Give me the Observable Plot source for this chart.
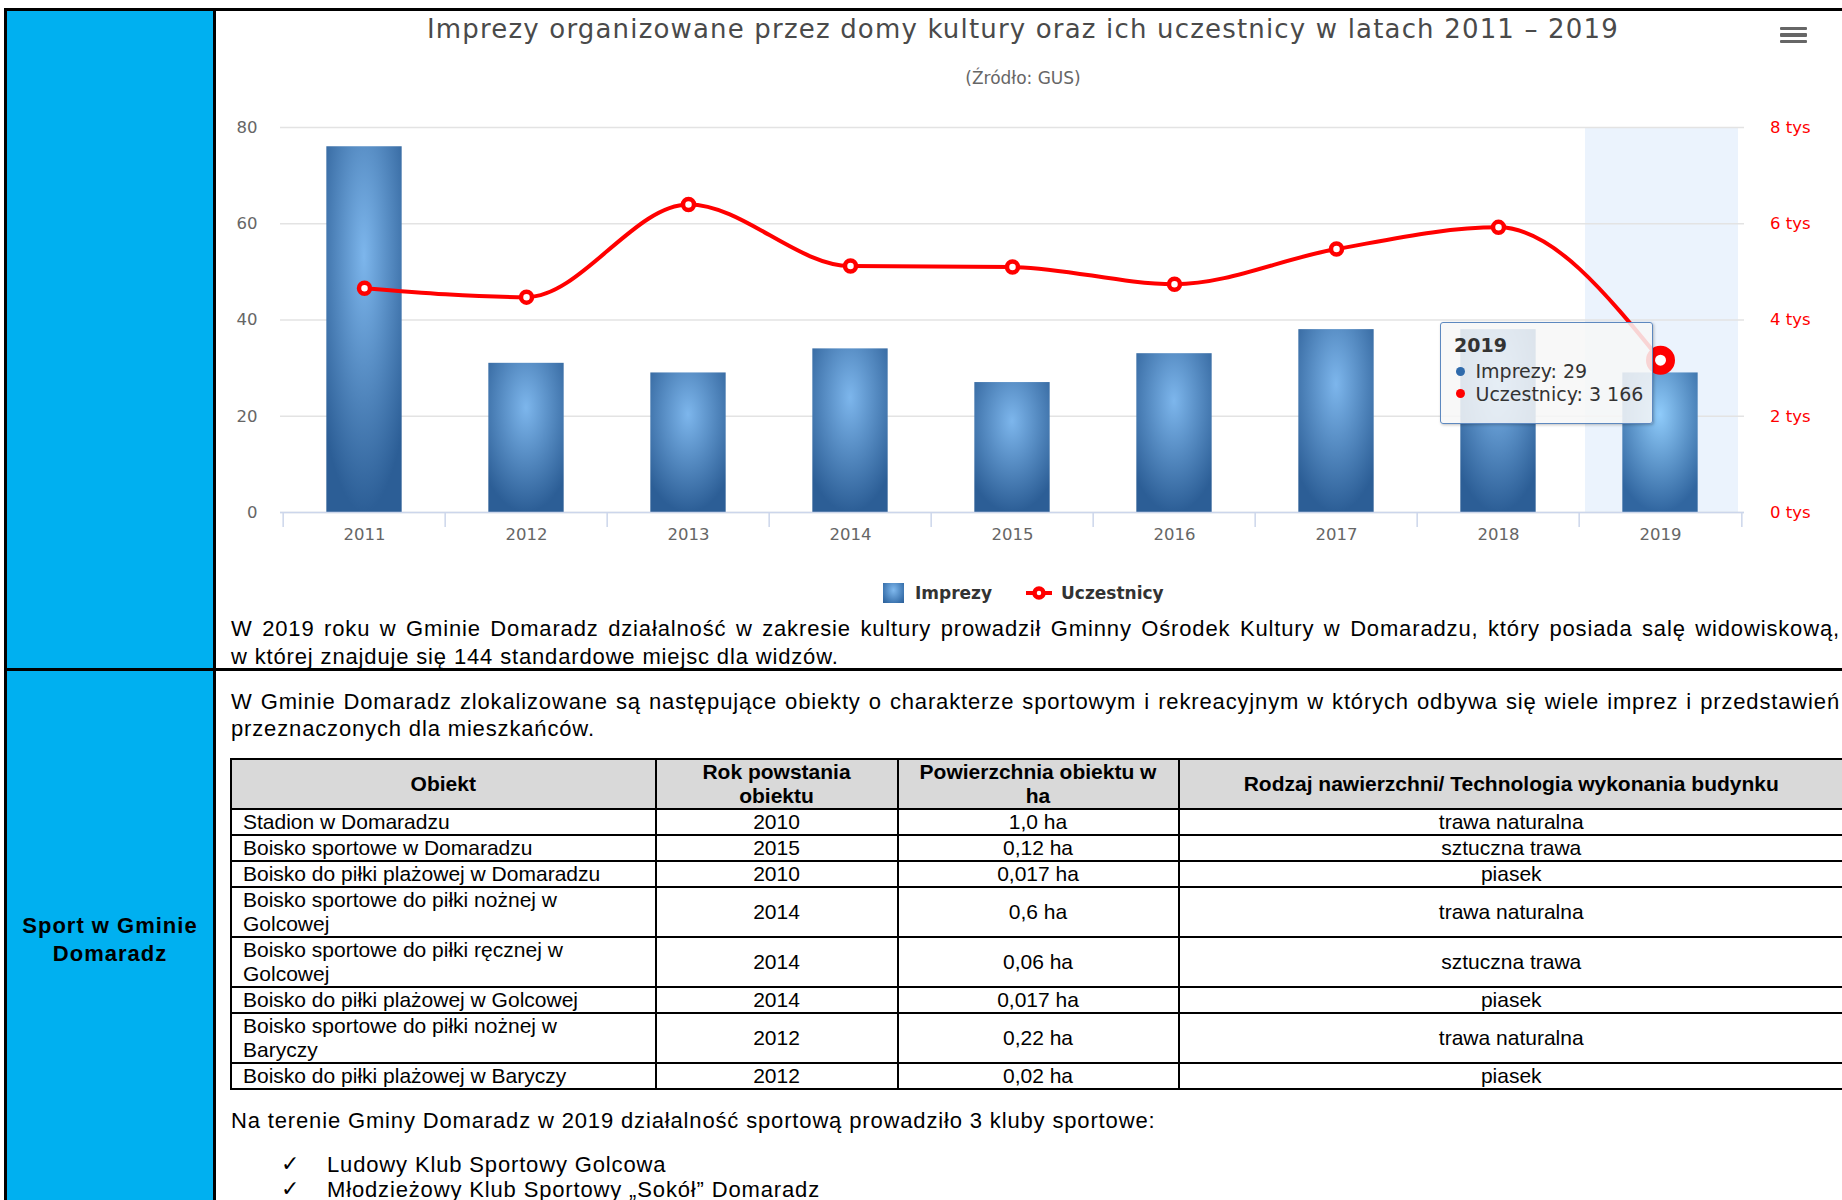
<!DOCTYPE html>
<html lang="pl">
<head>
<meta charset="utf-8">
<script src="https://cdn.jsdelivr.net/npm/d3@7"></script>
<script src="https://cdn.jsdelivr.net/npm/@observablehq/plot@0.6"></script>
<style>
html,body{margin:0;padding:0;}
body{width:1842px;height:1200px;overflow:hidden;position:relative;background:#fff;font-family:"Liberation Sans",Arial,"DejaVu Sans",sans-serif;color:#000;}
.a{position:absolute;}
.bl{position:absolute;background:#000;z-index:5;}
#blue{left:7px;top:11px;width:206px;height:1189px;background:#00b0f0;}
.doc{position:absolute;font-size:22px;letter-spacing:0.85px;line-height:27.5px;white-space:nowrap;}
.just{display:block;text-align:justify;text-align-last:justify;width:1609px;white-space:normal;}
#side{left:7px;width:206px;top:912px;text-align:center;font-weight:bold;font-size:22px;letter-spacing:1px;line-height:28px;}
#chart{position:absolute;left:216px;top:0;width:1626px;height:620px;}
.hc{font-family:"DejaVu Sans",sans-serif;}
#title{top:14px;font-size:26px;line-height:30px;color:#4a4a4a;white-space:nowrap;transform:translateX(-50%);}
#subtitle{top:68px;font-size:17px;line-height:20px;color:#666;white-space:nowrap;transform:translateX(-50%);}
.hb{position:absolute;left:1780px;width:27px;height:3.7px;background:#666;border-radius:1px;}
.lgtxt{font-weight:bold;font-size:17px;color:#333;line-height:20px;top:583px;white-space:nowrap;}
#tip{box-sizing:border-box;width:213px;height:102px;background:rgba(247,247,247,0.86);border:1.5px solid #5d88bf;border-radius:3px;box-shadow:1px 1px 3px rgba(0,0,0,0.25);color:#333;font-size:19px;z-index:3;}
#tip .ln{position:absolute;line-height:22px;white-space:nowrap;}
#tip .bul{position:absolute;width:9px;height:9px;border-radius:50%;}
.cell{position:absolute;box-sizing:border-box;border:2px solid #000;display:flex;align-items:center;font-size:21px;line-height:24px;}
.cell.h{background:#d9d9d9;font-weight:bold;justify-content:center;text-align:center;}
.cell.c{justify-content:center;text-align:center;}
.cell.l{padding-left:11px;}
</style>
</head>
<body>
<div id="blue" class="a"></div>
<div id="chart"></div>
<div id="overlay"></div>
<div id="doc"></div>
<script>
// ---------------- data ----------------
const years = ["2011","2012","2013","2014","2015","2016","2017","2018","2019"];
const imprezy = [76, 31, 29, 34, 27, 33, 38, 38, 29];
const uczestnicy = [4660, 4475, 6400, 5120, 5100, 4745, 5475, 5925, 3166];
const leftTicks = [0, 20, 40, 60, 80];
const rightTickLabels = ["0 tys", "2 tys", "4 tys", "6 tys", "8 tys"];
const hoverYear = "2019";
const seriesNames = ["Imprezy", "Uczestnicy"];
const chartTitle = "Imprezy organizowane przez domy kultury oraz ich uczestnicy w latach 2011 \u2013 2019";
const chartSubtitle = "(\u0179r\u00f3d\u0142o: GUS)";

const para1 = ["W 2019 roku w Gminie Domaradz dzia\u0142alno\u015b\u0107 w zakresie kultury prowadzi\u0142 Gminny O\u015brodek Kultury w Domaradzu, kt\u00f3ry posiada sal\u0119 widowiskow\u0105,",
               "w kt\u00f3rej znajduje si\u0119 144 standardowe miejsc dla widz\u00f3w."];
const para2 = ["W Gminie Domaradz zlokalizowane s\u0105 nast\u0119puj\u0105ce obiekty o charakterze sportowym i rekreacyjnym w kt\u00f3rych odbywa si\u0119 wiele imprez i przedstawie\u0144",
               "przeznaczonych dla mieszka\u0144c\u00f3w."];
const sideLabel = ["Sport w Gminie", "Domaradz"];
const tableHeader = ["Obiekt", "Rok powstania\nobiektu", "Powierzchnia obiektu w\nha", "Rodzaj nawierzchni/ Technologia wykonania budynku"];
const objNames = ["Stadion w Domaradzu", "Boisko sportowe w Domaradzu", "Boisko do pi\u0142ki pla\u017cowej w Domaradzu",
  "Boisko sportowe do pi\u0142ki no\u017cnej w\nGolcowej", "Boisko sportowe do pi\u0142ki r\u0119cznej w\nGolcowej",
  "Boisko do pi\u0142ki pla\u017cowej w Golcowej", "Boisko sportowe do pi\u0142ki no\u017cnej w\nBaryczy", "Boisko do pi\u0142ki pla\u017cowej w Baryczy"];
const objYears = ["2010", "2015", "2010", "2014", "2014", "2014", "2012", "2012"];
const objArea = ["1,0 ha", "0,12 ha", "0,017 ha", "0,6 ha", "0,06 ha", "0,017 ha", "0,22 ha", "0,02 ha"];
const objSurface = ["trawa naturalna", "sztuczna trawa", "piasek", "trawa naturalna", "sztuczna trawa", "piasek", "trawa naturalna", "piasek"];
const para3 = "Na terenie Gminy Domaradz w 2019 dzia\u0142alno\u015b\u0107 sportow\u0105 prowadzi\u0142o 3 kluby sportowe:";
const clubs = ["Ludowy Klub Sportowy Golcowa", "M\u0142odzie\u017cowy Klub Sportowy \u201eSok\u00f3\u0142\u201d Domaradz"];

// ---------------- chart ----------------
const UCZ_PER_UNIT = 100; // 8 tys participants share the 80 line of the left axis
const data = years.map((year, i) => ({year, imprezy: imprezy[i], uczestnicy: uczestnicy[i]}));
const yDomain = [leftTicks[0], leftTicks[leftTicks.length - 1]];
const rightMap = new Map(leftTicks.map((t, i) => [t, rightTickLabels[i]]));
const W = 1626, H = 620, mL = 64, mR = 98, mT = 127, mB = 108;
const chartLeft = 216;
const step = (W - mL - mR) / years.length;
const barInset = (step - 76) / 2;
const uY = d => d.uczestnicy / UCZ_PER_UNIT;

const defsMark = () => {
  const d = d3.create("svg:defs");
  const mk = (id, c0, c1) => {
    const g = d.append("radialGradient").attr("id", id).attr("cx", 0.5).attr("cy", 0.3).attr("r", 0.7);
    g.append("stop").attr("offset", 0).attr("stop-color", c0);
    g.append("stop").attr("offset", 1).attr("stop-color", c1);
  };
  mk("gBar", "#7db6ec", "#2c5e96");
  mk("gBarHover", "#8fcbfa", "#3166a0");
  return d.node();
};

const chart = Plot.plot({
  width: W, height: H,
  marginLeft: mL, marginRight: mR, marginTop: mT, marginBottom: mB,
  style: {background: "transparent", fontFamily: "'DejaVu Sans', sans-serif", overflow: "visible"},
  x: {domain: years, padding: 0},
  y: {domain: yDomain},
  color: {type: "identity"},
  marks: [
    defsMark,
    Plot.barY([hoverYear], {x: d => d, y1: yDomain[0], y2: yDomain[1], fill: "#ebf3fd", insetLeft: 6, insetRight: 3}),
    Plot.gridY(leftTicks, {stroke: "#e3e3e3", strokeOpacity: 1, strokeWidth: 1.4}),
    Plot.barY(data, {x: "year", y: "imprezy", fill: d => d.year === hoverYear ? "url(#gBarHover)" : "url(#gBar)", insetLeft: barInset, insetRight: barInset}),
    Plot.ruleY([0], {stroke: "#ccd6eb", strokeWidth: 1.5}),
    Plot.ruleX(years, {x: d => d, y1: 0, y2: 0, insetBottom: -15, dx: -step / 2, stroke: "#ccd6eb", strokeWidth: 1.5}),
    Plot.ruleX(years.slice(-1), {x: d => d, y1: 0, y2: 0, insetBottom: -15, dx: step / 2, stroke: "#ccd6eb", strokeWidth: 1.5}),
    Plot.axisY(leftTicks, {anchor: "left", tickSize: 0, tickPadding: 23, fontSize: 16.5, fill: "#666", label: null}),
    Plot.axisY(leftTicks, {anchor: "right", tickSize: 0, tickPadding: 25.5, fontSize: 16.5, fill: "#ff0000", label: null, tickFormat: d => rightMap.get(d)}),
    Plot.axisX({tickSize: 0, tickPadding: 16, fontSize: 16.5, fill: "#666", label: null}),
    Plot.line(data, {x: "year", y: uY, stroke: "#ff0000", strokeWidth: 4, curve: "monotone-x"}),
    Plot.dot(data, {filter: d => d.year !== hoverYear, x: "year", y: uY, r: 5.5, fill: "white", stroke: "#ff0000", strokeWidth: 4.5}),
    Plot.dot(data, {filter: d => d.year === hoverYear, x: "year", y: uY, r: 10, fill: "white", stroke: "#ff0000", strokeWidth: 9})
  ]
});
document.getElementById("chart").appendChild(chart);

const ov = document.getElementById("overlay");
function add(parent, cls, style, text) {
  const el = document.createElement("div");
  el.className = cls;
  Object.assign(el.style, style || {});
  if (text != null) el.textContent = text;
  parent.appendChild(el);
  return el;
}
// title / subtitle
const t = add(ov, "a hc", {left: "1023px"}, chartTitle); t.id = "title";
(function(){ const w = t.getBoundingClientRect().width; const n = chartTitle.length; t.style.letterSpacing = ((1192 - w) / n) + "px"; })();
const st = add(ov, "a hc", {left: "1023px"}, chartSubtitle); st.id = "subtitle";
// hamburger
[26.5, 33, 39.5].forEach(y => add(ov, "hb", {top: y + "px"}));
// legend
add(ov, "a", {left: "883px", top: "583px", width: "21px", height: "20px", background: "radial-gradient(ellipse at 50% 35%, #80b9ee 0%, #3a72ad 75%, #2c5e96 100%)"});
add(ov, "a hc lgtxt", {left: "915px"}, seriesNames[0]);
const ls = add(ov, "a", {left: "1025px", top: "585px", width: "28px", height: "16px"});
ls.innerHTML = '<svg width="28" height="16"><line x1="1" x2="27" y1="8" y2="8" stroke="#ff0000" stroke-width="4"/><circle cx="14" cy="8" r="4.5" fill="#fff" stroke="#ff0000" stroke-width="4.5"/></svg>';
add(ov, "a hc lgtxt", {left: "1061px"}, seriesNames[1]);

// tooltip, anchored on the hovered point through the chart's scales
const xs = chart.scale("x"), ys = chart.scale("y");
const hi = years.indexOf(hoverYear);
const px = chartLeft + xs.apply(hoverYear) + xs.bandwidth / 2;
const py = ys.apply(uczestnicy[hi] / UCZ_PER_UNIT);
const fmt = d3.formatLocale({decimal: ",", thousands: "\u00a0", grouping: [3], currency: ["", ""]}).format(",");
const tip = add(ov, "a hc", {left: (px - 220) + "px", top: (py - 38) + "px"}); tip.id = "tip";
add(tip, "ln", {left: "13px", top: "11.5px", fontWeight: "bold"}, hoverYear);
add(tip, "bul", {left: "15px", top: "44px", background: "#2f6aab"});
add(tip, "ln", {left: "34.5px", top: "37.5px"}, seriesNames[0] + ": " + imprezy[hi]);
add(tip, "bul", {left: "15px", top: "66.5px", background: "#ff0000"});
add(tip, "ln", {left: "34.5px", top: "60px"}, seriesNames[1] + ": " + fmt(uczestnicy[hi]));

// ---------------- document ----------------
const doc = document.getElementById("doc");
add(doc, "bl", {left: "4px", top: "8px", width: "1838px", height: "3px"});
add(doc, "bl", {left: "4px", top: "8px", width: "3px", height: "1192px"});
add(doc, "bl", {left: "213px", top: "8px", width: "3px", height: "1192px"});
add(doc, "bl", {left: "4px", top: "668px", width: "1838px", height: "3px"});

function para(lines, left, top, lh) {
  const p = add(doc, "doc", {left: left + "px", top: top + "px", lineHeight: lh + "px"});
  lines.forEach((s, i) => {
    const d = document.createElement("div");
    d.textContent = s;
    if (i < lines.length - 1) d.className = "just";
    p.appendChild(d);
  });
  return p;
}
para(para1, 231, 615.3, 27.5);
para(para2, 231, 687.6, 27.7);
const side = add(doc, "a", {}); side.id = "side";
side.innerHTML = sideLabel.join("<br>");

// table
const colX = [231, 655.5, 897.5, 1178.5, 1844];
const aligns = ["l", "c", "c", "c"];
const rows = [tableHeader].concat(objNames.map((n, i) => [n, objYears[i], objArea[i], objSurface[i]]));
let y = 759;
rows.forEach((r, ri) => {
  const nLines = Math.max(...r.map(s => s.split("\n").length));
  const h = 2 + 24 * nLines;
  r.forEach((s, ci) => {
    const c = add(doc, "cell " + (ri === 0 ? "h" : aligns[ci]), {
      left: (colX[ci] - 1) + "px", top: (y - 1) + "px",
      width: (colX[ci + 1] - colX[ci] + 2) + "px", height: (h + 2) + "px"
    });
    const inner = document.createElement("div");
    s.split("\n").forEach((x, k) => { if (k) inner.appendChild(document.createElement("br")); inner.appendChild(document.createTextNode(x)); });
    c.appendChild(inner);
  });
  y += h;
});
add(doc, "doc", {left: "231px", top: "1106.6px"}, para3);
clubs.forEach((c, i) => {
  const top = 1151 + i * 24.5;
  add(doc, "doc", {left: "281px", top: (top - 1) + "px", fontFamily: "'DejaVu Sans',sans-serif", fontSize: "22px", letterSpacing: "0"}, "\u2713");
  add(doc, "doc", {left: "327px", top: top + "px"}, c);
});
</script>
</body>
</html>
